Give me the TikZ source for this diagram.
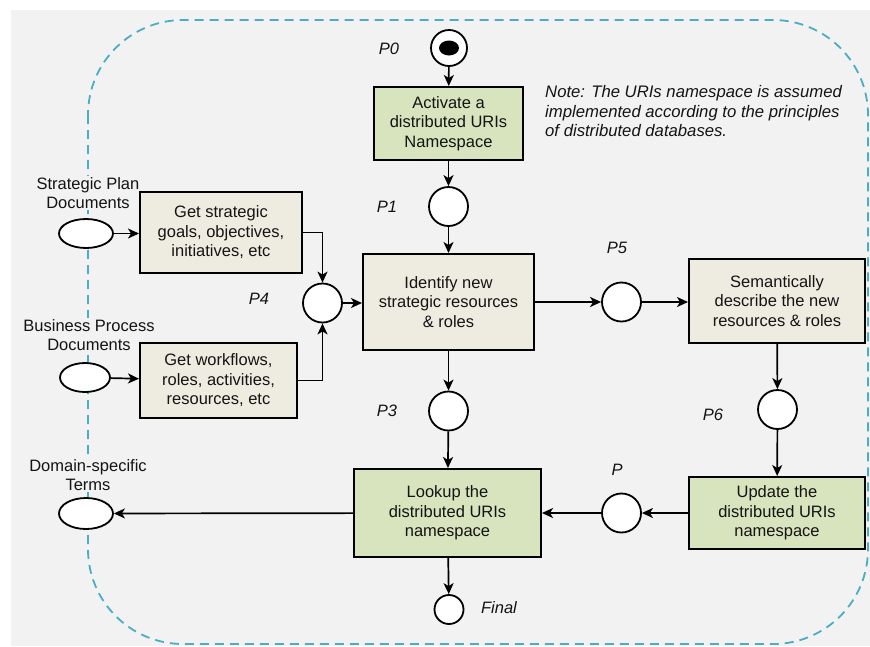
\documentclass[tikz,border=0pt]{standalone}
\usepackage{fontspec}
\setmainfont{Liberation Sans}
\usetikzlibrary{arrows.meta,shapes.geometric}
\definecolor{bggray}{HTML}{F2F2F2}
\definecolor{boxgreen}{HTML}{D7E4BD}
\definecolor{boxbeige}{HTML}{EEECE1}
\definecolor{dashblue}{HTML}{4BACC6}
\definecolor{txt}{HTML}{141414}
\tikzset{
  txtfont/.style={font=\fontsize{16.5}{19.5}\selectfont, text=txt},
  procbox/.style={draw=black, line width=2pt, rectangle, align=center, inner sep=2pt, txtfont},
  greenbox/.style={procbox, fill=boxgreen},
  beigebox/.style={procbox, fill=boxbeige},
  place/.style={draw=black, line width=1.8pt, circle, fill=white, inner sep=0pt},
  docell/.style={draw=black, line width=1.8pt, ellipse, fill=white, inner sep=0pt},
  plabel/.style={txtfont, font=\fontsize{16.5}{19.5}\selectfont\itshape, inner sep=0pt},
  doclabel/.style={txtfont, align=center, fill=bggray, inner sep=1pt},
  flow/.style={draw=black, line width=1.7pt, -{Stealth[length=11pt,width=10pt,inset=3pt]}},
  frame/.style={draw=dashblue, line width=1.8pt, dash pattern=on 9pt off 6pt}
}
\begin{document}
\begin{tikzpicture}[x=1pt,y=-1pt]
\useasboundingbox (0,0) rectangle (870,646);
\fill[white] (0,0) rectangle (870,646);
\fill[bggray] (11,10) rectangle (870,646);
\draw[frame, rounded corners=95pt] (88,20) rectangle (868,644);

% left document labels
\node[doclabel] (l1) at (88,193) {Strategic Plan\\Documents};
\node[doclabel] (l2) at (89,335) {Business Process\\Documents};
\node[doclabel] (l3) at (88,475) {Domain-specific\\Terms};

% nodes
\node[place, minimum size=36pt] (start) at (449,48) {};
\fill[black] (start.center) ellipse [x radius=10pt, y radius=7.5pt];
\node[greenbox, minimum width=149pt, minimum height=73pt] (act) at (448.5,123.5) {Activate a\\distributed URIs\\Namespace};
\node[place, minimum size=39pt] (p1) at (448.5,206.5) {};
\node[beigebox, minimum width=171pt, minimum height=96pt] (idf) at (448.5,302) {Identify new\\strategic resources\\\& roles};
\node[place, minimum size=39pt] (p3) at (448.5,411) {};
\node[greenbox, minimum width=187pt, minimum height=88pt] (look) at (447.5,513) {Lookup the\\distributed URIs\\namespace};
\node[place, minimum size=29pt] (fin) at (449,609.5) {};
\node[place, minimum size=39pt] (p4) at (322.5,303) {};
\node[beigebox, minimum width=162pt, minimum height=81pt] (g1) at (221,232.5) {Get strategic\\goals, objectives,\\initiatives, etc};
\node[beigebox, minimum width=157pt, minimum height=75pt] (g2) at (218.5,380.5) {Get workflows,\\roles, activities,\\resources, etc};
\node[docell, minimum width=54pt, minimum height=29pt] (e1) at (86,233.5) {};
\node[docell, minimum width=50pt, minimum height=29pt] (e2) at (85,377.5) {};
\node[docell, minimum width=54pt, minimum height=31pt] (e3) at (86,513.5) {};
\node[place, minimum size=39pt] (p5) at (621.5,302) {};
\node[beigebox, minimum width=176pt, minimum height=84pt] (sem) at (777,301) {Semantically\\describe the new\\resources \& roles};
\node[place, minimum size=39pt] (p6) at (777.5,409.5) {};
\node[greenbox, minimum width=176pt, minimum height=72pt] (upd) at (777,513) {Update the\\distributed URIs\\namespace};
\node[place, minimum size=39pt] (pp) at (621.5,513) {};

% place labels
\node[plabel] (lp0) at (389,49) {P0};
\node[plabel] (lp1) at (387,207) {P1};
\node[plabel] (lp3) at (387,411) {P3};
\node[plabel] (lp4) at (259,299) {P4};
\node[plabel] (lp5) at (617,248) {P5};
\node[plabel] (lp6) at (713,415) {P6};
\node[plabel] (lpp) at (617,470) {P};
\node[plabel] (lfin) at (499,608) {Final};

% note
\node[txtfont, font=\fontsize{16.7}{19.5}\selectfont\itshape, align=left, anchor=west, inner sep=0pt] (note) at (545,111.5) {Note: The URIs namespace is assumed\\implemented according to the principles\\of distributed databases.};

% connectors
\draw[flow] (start) -- (act);
\draw[flow] (act) -- (p1);
\draw[flow] (p1) -- (idf);
\draw[flow] (idf) -- (p3);
\draw[flow] (p3) -- (look);
\draw[flow] (look) -- (fin);
\draw[flow] (look) -- (e3);
\draw[flow] (idf.east |- p5) -- (p5);
\draw[flow] (p5) -- (sem.west |- p5);
\draw[flow] (sem) -- (p6);
\draw[flow] (p6) -- (upd);
\draw[flow] (upd) -- (pp);
\draw[flow] (pp) -- (look);
\draw[flow] (e1) -- (g1.west |- e1);
\draw[flow] (e2) -- (g2);
\draw[flow] (g1.east) -| (p4.north);
\draw[flow] (g2.east) -| (p4.south);
\draw[flow] (p4) -- (idf.west |- p4);
\end{tikzpicture}
\end{document}
